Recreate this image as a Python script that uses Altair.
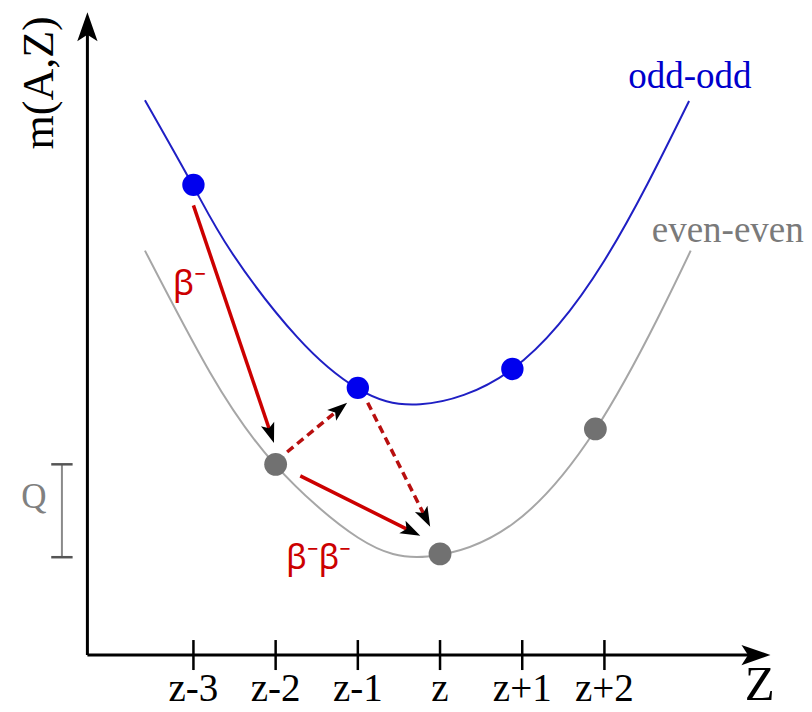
import math
import altair as alt
import pandas as pd

# ---------------- data (Z steps on x, mass in arbitrary units on y) ----------------
tick_pos = [-3, -2, -1, 0, 1, 2]
tick_labels = ["z-3", "z-2", "z-1", "z", "z+1", "z+2"]

odd_curve_x = [-3.59, -3.00, -2.53, -1.74, -1.00, -0.24, 0.88, 2.00, 3.03]
odd_curve_y = [6.75, 5.70, 4.89, 3.87, 3.24, 3.05, 3.48, 4.80, 6.74]
even_curve_x = [-3.59, -2.80, -2.01, -1.00, -0.15, 0.89, 1.89, 2.65, 3.05]
even_curve_y = [4.92, 3.44, 2.32, 1.43, 1.20, 1.60, 2.74, 4.10, 4.92]

odd_pts_x = [-3.0, -1.0, 0.88]
odd_pts_y = [5.72, 3.25, 3.48]
even_pts_x = [-2.0, 0.0, 1.89]
even_pts_y = [2.32, 1.23, 2.75]

arrow_x1 = [-3.00, -1.86, -0.88, -1.70]
arrow_y1 = [5.47, 2.47, 3.07, 2.18]
arrow_x2 = [-2.02, -1.13, -0.12, -0.24]
arrow_y2 = [2.58, 3.07, 1.56, 1.45]
arrow_dashed = [False, True, True, False]

axis_origin = [-4.29, 0.0]
x_axis_end = 4.02
y_axis_end = 7.82
q_level_top = 2.32
q_level_bottom = 1.19
q_x = -4.60

# ---------------- layout helpers ----------------
X_DOMAIN = [-5.256, 4.428]
Y_DOMAIN = [-0.693, 7.871]
W, H = 796, 704
PX = W / (X_DOMAIN[1] - X_DOMAIN[0])  # pixels per unit (same on both axes)

xs = alt.Scale(domain=X_DOMAIN, nice=False, zero=False)
ys = alt.Scale(domain=Y_DOMAIN, nice=False, zero=False)

DART = "M0,-1L0.7,1L0,0.55L-0.7,1Z"


def head_rows(x1, y1, x2, y2, half_len_px):
    dx, dy = x2 - x1, y2 - y1
    L = math.hypot(dx, dy)
    ux, uy = dx / L, dy / L
    back = half_len_px / PX
    ang = math.degrees(math.atan2(dx, dy)) % 360
    return dict(hx=x2 - ux * back, hy=y2 - uy * back, angle=ang)


def X(f):
    return alt.X(f, type="quantitative", scale=xs, axis=None)


def Y(f):
    return alt.Y(f, type="quantitative", scale=ys, axis=None)


# curves
odd_df = pd.DataFrame({"x": odd_curve_x, "y": odd_curve_y})
even_df = pd.DataFrame({"x": even_curve_x, "y": even_curve_y})
odd_line = alt.Chart(odd_df).mark_line(color="#1f1fc4", strokeWidth=2, interpolate="natural").encode(x=X("x"), y=Y("y"))
even_line = alt.Chart(even_df).mark_line(color="#a6a6a6", strokeWidth=2, interpolate="natural").encode(x=X("x"), y=Y("y"))

# red arrows
arr = pd.DataFrame({"x1": arrow_x1, "y1": arrow_y1, "x2": arrow_x2, "y2": arrow_y2, "dashed": arrow_dashed})
heads = pd.DataFrame([head_rows(a, b, c, d, 10) for a, b, c, d in zip(arrow_x1, arrow_y1, arrow_x2, arrow_y2)])
arr = pd.concat([arr, heads], axis=1)
solid = alt.Chart(arr[~arr.dashed]).mark_rule(color="#cc0000", strokeWidth=3.5).encode(
    x=X("x1"), y=Y("y1"), x2="hx:Q", y2="hy:Q")
dashed = alt.Chart(arr[arr.dashed]).mark_rule(color="#b80f0f", strokeWidth=3.5, strokeDash=[8, 5]).encode(
    x=X("x1"), y=Y("y1"), x2="hx:Q", y2="hy:Q")
red_heads = alt.Chart(arr).mark_point(shape=DART, filled=True, color="black", opacity=1, size=400).encode(
    x=X("hx"), y=Y("hy"), angle=alt.Angle("angle:Q", scale=None))

# dots
odd_pts = alt.Chart(pd.DataFrame({"x": odd_pts_x, "y": odd_pts_y})).mark_circle(
    color="#0000ee", opacity=1, size=500).encode(x=X("x"), y=Y("y"))
even_pts = alt.Chart(pd.DataFrame({"x": even_pts_x, "y": even_pts_y})).mark_circle(
    color="#717171", opacity=1, size=520).encode(x=X("x"), y=Y("y"))

# axes with arrow heads
ax_head_half = 14.5
yh = head_rows(axis_origin[0], axis_origin[1], axis_origin[0], y_axis_end, ax_head_half)
xh = head_rows(axis_origin[0], axis_origin[1], x_axis_end, axis_origin[1], ax_head_half)
axes_df = pd.DataFrame({
    "x1": [axis_origin[0], axis_origin[0]], "y1": [axis_origin[1], axis_origin[1]],
    "x2": [yh["hx"], xh["hx"]], "y2": [yh["hy"], xh["hy"]],
    "angle": [yh["angle"], xh["angle"]],
})
axes_lines = alt.Chart(axes_df).mark_rule(color="black", strokeWidth=3).encode(
    x=X("x1"), y=Y("y1"), x2="x2:Q", y2="y2:Q")
axes_heads = alt.Chart(axes_df).mark_point(shape=DART, filled=True, color="black", opacity=1, size=841).encode(
    x=X("x2"), y=Y("y2"), angle=alt.Angle("angle:Q", scale=None))

tick_df = pd.DataFrame({"x": tick_pos, "lab": tick_labels})
axis_px = H - (0 - Y_DOMAIN[0]) * PX
ticks = alt.Chart(tick_df).mark_rule(color="black", strokeWidth=2.5).encode(
    x=X("x"), y=alt.value(axis_px - 15), y2=alt.value(axis_px + 15))
tick_text = alt.Chart(tick_df).mark_text(
    font="Liberation Serif", fontSize=39, baseline="alphabetic", align="center", color="black").encode(
    x=X("x"), y=alt.value(H - (-0.56 - Y_DOMAIN[0]) * PX), text="lab:N")

# Q bracket
q_df = pd.DataFrame({"x": [q_x], "yt": [q_level_top], "yb": [q_level_bottom]})
q_line = alt.Chart(q_df).mark_rule(color="#8a8a8a", strokeWidth=2).encode(x=X("x"), y=Y("yt"), y2="yb:Q")
q_caps_df = pd.DataFrame({"x": [q_x - 0.13, q_x - 0.13], "x2": [q_x + 0.13, q_x + 0.13], "y": [q_level_top, q_level_bottom]})
q_caps = alt.Chart(q_caps_df).mark_rule(color="#555555", strokeWidth=2.5).encode(x=X("x"), x2="x2:Q", y=Y("y"))

# labels
labels_df = pd.DataFrame({
    "x": [-4.94, 3.04, 3.50, -3.05, -1.48, 3.89],
    "y": [1.92, 6.90, 5.02, 4.38, 1.05, -0.55],
    "t": ["Q", "odd-odd", "even-even", "β⁻", "β⁻β⁻", "Z"],
})


def label(i, color, font, size, baseline="alphabetic"):
    return alt.Chart(labels_df.iloc[[i]]).mark_text(
        font=font, fontSize=size, color=color, align="center", baseline=baseline).encode(
        x=X("x"), y=Y("y"), text="t:N")


q_text = label(0, "#808080", "Liberation Serif", 35, "middle")
odd_text = label(1, "#0000cc", "Liberation Serif", 37)
even_text = label(2, "#7a7a7a", "Liberation Serif", 37)
b1_text = label(3, "#cc0000", "Noto Sans", 35)
b2_text = label(4, "#cc0000", "Noto Sans", 34)
z_text = label(5, "black", "Liberation Serif", 49)

m_df = pd.DataFrame({"x": [-4.87], "y": [6.96], "t": ["m(A,Z)"]})
m_text = alt.Chart(m_df).mark_text(font="Liberation Serif", fontSize=44, color="black", angle=270,
                                   align="center", baseline="middle").encode(x=X("x"), y=Y("y"), text="t:N")

chart = alt.layer(
    odd_line, even_line, axes_lines, axes_heads, ticks, tick_text,
    q_line, q_caps, solid, dashed, red_heads, odd_pts, even_pts,
    q_text, odd_text, even_text, b1_text, b2_text, z_text, m_text,
).properties(
    width=W, height=H, padding=0, autosize=alt.AutoSizeParams(type="none"), background="white"
).configure_view(stroke=None)

chart.save("out.html", embed_options={"renderer": "svg", "actions": False})
